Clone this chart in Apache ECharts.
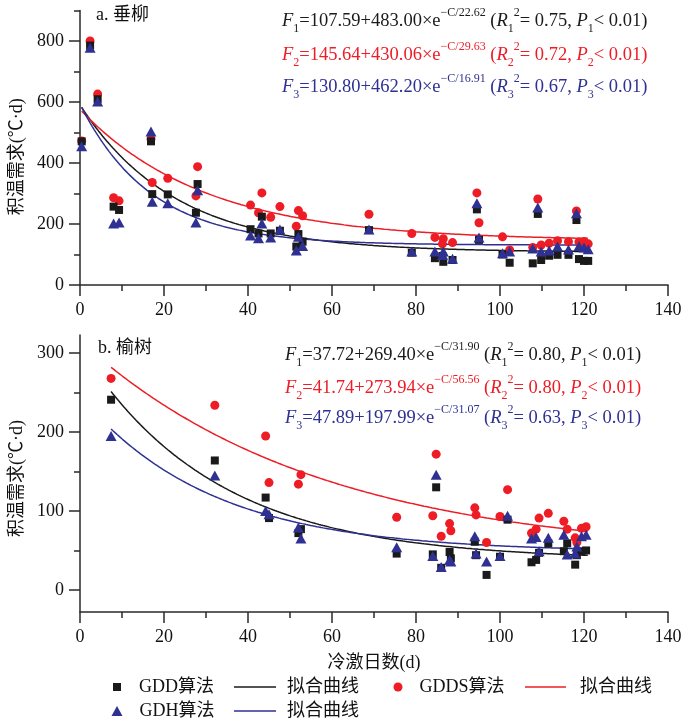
<!DOCTYPE html>
<html>
<head>
<meta charset="utf-8">
<script src="https://cdn.jsdelivr.net/npm/echarts@6/dist/echarts.min.js"></script>
<style>html,body{margin:0;padding:0;background:#fff;}#c{width:688px;height:721px;}</style>
</head>
<body>
<div id="c"></div>
<script>
// ---------- data: panel a (垂柳) ----------
const xA = [0.4, 2.4, 4.2, 8.0, 9.3, 16.9, 17.2, 20.9, 28.0, 27.6, 40.6, 43.3, 42.5, 45.4, 47.6, 52.0, 53.0, 51.5, 68.8, 79.0, 84.5, 86.5, 86.3, 88.7, 94.5, 95.0, 100.6, 102.3, 107.8, 109.0, 109.8, 111.7, 113.7, 116.3, 118.2, 118.8, 120.0, 121.0];
const gddA = [471, 785, 609, 257, 246, 471, 298, 297, 331, 237, 183, 224, 169, 169, 178, 167, 142, 126, 180, 106, 88, 76, 95, 82, 248, 148, 100, 73, 71, 233, 82, 96, 99, 99, 213, 85, 79, 79];
const gddsA = [472, 800, 626, 286, 276, 479, 336, 350, 388, 292, 262, 302, 237, 222, 257, 244, 227, 193, 232, 169, 156, 152, 135, 139, 302, 204, 158, 115, 123, 282, 131, 137, 145, 142, 243, 141, 143, 135];
const gdhA = [455, 778, 602, 202, 205, 503, 273, 268, 311, 205, 162, 202, 153, 156, 182, 158, 128, 113, 182, 110, 110, 110, 98, 86, 268, 156, 104, 110, 120, 254, 110, 113, 126, 116, 235, 128, 123, 117];

// ---------- data: panel b (榆树) ----------
const xB = [7.4, 32.1, 44.2, 45.0, 52.0, 52.6, 75.4, 84.8, 84.0, 86.0, 88.0, 88.3, 94.0, 94.3, 96.8, 100.0, 101.8, 107.5, 108.6, 109.3, 111.5, 115.2, 116.0, 117.9, 118.3, 119.4, 120.5];
const gddB = [241, 164, 117, 91, 72, 77, 46, 130, 45, 28, 48, 40, 61, 44, 19, 42, 89, 35, 38, 47, 59, 49, 59, 32, 44, 49, 50];
const gddsB = [268, 234, 195, 136, 134, 146, 92, 172, 94, 68, 84, 75, 104, 95, 60, 93, 127, 72, 77, 91, 97, 87, 77, 66, 60, 78, 80];
const gdhB = [195, 145, 100, 96, 79, 65, 54, 146, 43, 29, 38, 36, 68, 46, 36, 43, 94, 65, 67, 49, 66, 70, 45, 46, 55, 68, 70];

// ---------- fitted equations F = a + b*exp(-C/c) ----------
const fitA_GDD = [107.59, 483.00, 22.62];
const fitA_GDDS = [145.64, 430.06, 29.63];
const fitA_GDH = [130.80, 462.20, 16.91];
const fitB_GDD = [37.72, 269.40, 31.90];
const fitB_GDDS = [41.74, 273.94, 56.56];
const fitB_GDH = [47.89, 197.99, 31.07];
const r2A = ['0.75', '0.72', '0.67'];
const r2B = ['0.80', '0.80', '0.63'];
const fitRangeA = [0.4, 121];
const fitRangeB = [7.4, 121];

// ---------- tick labels ----------
const yTicksA = [0, 200, 400, 600, 800];
const yMinorA = [100, 300, 500, 700, 900];
const yTicksB = [0, 100, 200, 300];
const yMinorB = [50, 150, 250];

const BLACK = '#1a1a1a', RED = '#ee1c25', BLUE = '#2e3192', AX = '#2a2a2a';
const FONT = '"Liberation Serif", "Times New Roman", "Noto Sans CJK SC", serif';

function zip(xs, ys) { return xs.map((x, i) => [x, ys[i]]); }
function curve(p, r) {
  const pts = [];
  for (let x = r[0]; x <= r[1] + 1e-9; x += 0.5) pts.push([x, p[0] + p[1] * Math.exp(-x / p[2])]);
  return pts;
}

function eqText(n, p, r2) {
  return '{i|F}{s|' + n + '}{n|=' + p[0].toFixed(2) + '+' + p[1].toFixed(2) + '×e}{p|−C/' + p[2].toFixed(2) +
    '}{n| (}{i|R}{s|' + n + '}{p|2}{n|= ' + r2 + ', }{i|P}{s|' + n + '}{n|< 0.01)}';
}
function eqRich(color) {
  const base = { fontFamily: FONT, fontWeight: 'normal', color: color };
  return {
    n: Object.assign({ fontSize: 18.5, lineHeight: 28, verticalAlign: 'middle' }, base),
    i: Object.assign({ fontSize: 18.5, fontStyle: 'italic', lineHeight: 28, verticalAlign: 'middle' }, base),
    s: Object.assign({ fontSize: 12, lineHeight: 15, verticalAlign: 'bottom' }, base),
    p: Object.assign({ fontSize: 12, lineHeight: 15, verticalAlign: 'top' }, base)
  };
}
function eqTitle(left, top, txt, color) {
  return { left: left, top: top, padding: 0, text: txt, textStyle: { fontWeight: 'normal', rich: eqRich(color) } };
}

const grids = [
  { left: 80, top: 10.5, width: 588, height: 274.5 },
  { left: 80, top: 335, width: 588, height: 277 }
];

function xMain(gi, withName) {
  return {
    type: 'value', gridIndex: gi, min: 0, max: 140, interval: 20,
    name: withName ? '冷激日数(d)' : '', nameLocation: 'middle', nameGap: 42,
    nameTextStyle: { fontFamily: FONT, fontSize: 18, color: '#111' },
    axisLine: { show: true, onZero: false, lineStyle: { color: AX, width: 1.5 } },
    axisTick: { show: true, length: 11, lineStyle: { color: AX, width: 1.5 } },
    minorTick: { show: true, splitNumber: 2, length: 6, lineStyle: { color: AX, width: 1.5 } },
    axisLabel: { fontFamily: FONT, fontSize: 18, color: '#111', margin: 16 },
    splitLine: { show: false }
  };
}
function yMain(gi, min, max, ticks, namePad) {
  return {
    type: 'value', gridIndex: gi, min: min, max: max,
    name: '积温需求(℃·d)', nameLocation: 'middle', nameGap: 50,
    nameTextStyle: { fontFamily: FONT, fontSize: 18, color: '#111', padding: [0, namePad, 0, 0] },
    axisLine: { show: true, onZero: false, lineStyle: { color: AX, width: 1.5 } },
    axisTick: { show: true, length: 11, customValues: ticks, lineStyle: { color: AX, width: 1.5 } },
    axisLabel: { fontFamily: FONT, fontSize: 18, color: '#111', margin: 16, customValues: ticks },
    splitLine: { show: false }
  };
}
function yMinor(gi, min, max, ticks) {
  return {
    type: 'value', gridIndex: gi, min: min, max: max, position: 'left',
    axisLine: { show: false },
    axisTick: { show: true, length: 6, customValues: ticks, lineStyle: { color: AX, width: 1.5 } },
    axisLabel: { show: false },
    splitLine: { show: false }
  };
}

function scatter(name, data, xi, yi, symbol, size, color, z) {
  return { type: 'scatter', name: name, data: data, xAxisIndex: xi, yAxisIndex: yi, symbol: symbol, symbolSize: size,
    itemStyle: { color: color, opacity: 1 }, z: z, silent: true };
}
function fitLine(name, data, xi, yi, color) {
  return { type: 'line', name: name, data: data, xAxisIndex: xi, yAxisIndex: yi, symbol: 'none', showSymbol: false, smooth: false,
    lineStyle: { color: color, width: 1.5 }, itemStyle: { color: color }, z: 2, silent: true };
}

const fitNames = ['拟合曲线·GDD', '拟合曲线·GDDS', '拟合曲线·GDH'];
const legFmt = n => n.indexOf('拟合曲线') === 0 ? '拟合曲线' : n;
const legText = { fontFamily: FONT, fontSize: 18, color: '#111' };
function leg(name, icon, color, left, top, w, h, pad) {
  return { data: [{ name: name, icon: icon, itemStyle: { color: color } }], left: left, top: top, itemWidth: w, itemHeight: h,
    padding: 0, selectedMode: false, formatter: legFmt,
    textStyle: Object.assign({ padding: [0, 0, 0, pad] }, legText) };
}

const option = {
  animation: false,
  backgroundColor: '#fff',
  title: [
    { left: 96, top: 6, padding: 0, text: 'a. 垂柳', textStyle: { fontFamily: FONT, fontSize: 18, fontWeight: 'normal', color: '#111' } },
    { left: 98, top: 339, padding: 0, text: 'b. 榆树', textStyle: { fontFamily: FONT, fontSize: 18, fontWeight: 'normal', color: '#111' } },
    eqTitle(282, 7, eqText(1, fitA_GDD, r2A[0]), BLACK),
    eqTitle(282, 41, eqText(2, fitA_GDDS, r2A[1]), RED),
    eqTitle(282, 73, eqText(3, fitA_GDH, r2A[2]), BLUE),
    eqTitle(285, 341, eqText(1, fitB_GDD, r2B[0]), BLACK),
    eqTitle(285, 374, eqText(2, fitB_GDDS, r2B[1]), RED),
    eqTitle(285, 404, eqText(3, fitB_GDH, r2B[2]), BLUE)
  ],
  legend: [
    leg('GDD算法', 'rect', BLACK, 113, 678, 8, 8, 13),
    leg(fitNames[0], 'rect', BLACK, 234, 678, 42, 1.5, 6),
    leg('GDDS算法', 'circle', RED, 393.5, 678, 9, 9, 12),
    leg(fitNames[1], 'rect', RED, 525, 678, 41, 1.5, 9),
    leg('GDH算法', 'triangle', BLUE, 111.5, 702, 11, 10, 12),
    leg(fitNames[2], 'rect', BLUE, 234, 702, 42, 1.5, 6)
  ],
  grid: grids,
  xAxis: [xMain(0, false), xMain(1, true)],
  yAxis: [yMain(0, 0, 900, yTicksA, 18), yMinor(0, 0, 900, yMinorA), yMain(1, -28, 323, yTicksB, 10), yMinor(1, -28, 323, yMinorB)],
  series: [
    fitLine(fitNames[0], curve(fitA_GDD, fitRangeA), 0, 0, BLACK),
    fitLine(fitNames[1], curve(fitA_GDDS, fitRangeA), 0, 0, RED),
    fitLine(fitNames[2], curve(fitA_GDH, fitRangeA), 0, 0, BLUE),
    scatter('GDDS算法', zip(xA, gddsA), 0, 0, 'circle', 9, RED, 3),
    scatter('GDD算法', zip(xA, gddA), 0, 0, 'rect', 8, BLACK, 4),
    scatter('GDH算法', zip(xA, gdhA), 0, 0, 'triangle', [11, 10], BLUE, 5),
    fitLine(fitNames[0], curve(fitB_GDD, fitRangeB), 1, 2, BLACK),
    fitLine(fitNames[1], curve(fitB_GDDS, fitRangeB), 1, 2, RED),
    fitLine(fitNames[2], curve(fitB_GDH, fitRangeB), 1, 2, BLUE),
    scatter('GDDS算法', zip(xB, gddsB), 1, 2, 'circle', 9, RED, 3),
    scatter('GDD算法', zip(xB, gddB), 1, 2, 'rect', 8, BLACK, 4),
    scatter('GDH算法', zip(xB, gdhB), 1, 2, 'triangle', [11, 10], BLUE, 5)
  ]
};

const chart = echarts.init(document.getElementById('c'), null, { renderer: 'canvas' });
chart.setOption(option);
</script>
</body>
</html>
